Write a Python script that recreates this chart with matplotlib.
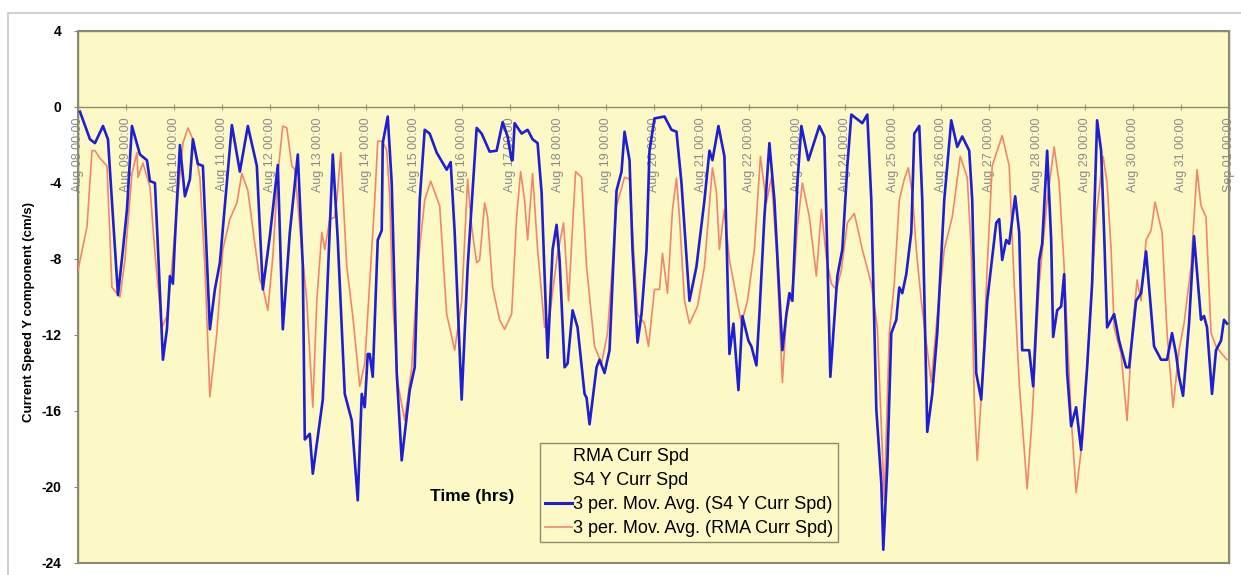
import numpy as np
import pandas as pd
import matplotlib
matplotlib.use("Agg")
import matplotlib.pyplot as plt
import matplotlib.dates as mdates
from matplotlib.lines import Line2D
from matplotlib.patches import Rectangle

plt.rcParams['font.family'] = ['Liberation Sans', 'DejaVu Sans']
plt.rcParams['axes.unicode_minus'] = False

start = pd.Timestamp("2008-08-08 00:00")

# 3 per. moving average of S4 Y current speed (hours since Aug 08 00:00, cm/s)
s4_hours = [1, 6, 8.5, 12.5, 15, 20, 22.5, 24.5, 27, 31, 34.5, 36, 38.5, 40, 42.5, 44.5, 46, 47.5,
            48.5, 51, 53.5, 56, 57.5, 60, 62.5, 66, 68.5, 71, 77, 81, 85, 89.5, 92.5, 96, 100, 102.5,
            106, 110, 112.5, 113.5, 116, 117.5, 122.5, 127.5, 130, 133.5, 137, 140, 142, 143.5, 145,
            146, 147.5, 150, 152, 152.5, 155, 157, 159.5, 162, 166, 168.5, 171, 173.5, 176, 179.5,
            184.5, 186.5, 188.5, 192, 195, 199.5, 202, 206, 209.5, 212.5, 215, 217, 217.5, 218.5, 222,
            225, 227.5, 230, 232, 235, 237.5, 239.5, 241, 243.5, 245, 247.5, 250, 253.5, 254.5, 256,
            259.5, 261, 263.5, 266, 269.5, 272, 273.5, 276, 277.5, 280, 282, 284.5, 286, 288.5, 293.5,
            297, 299.5, 302, 306, 309.5, 313.5, 316, 317.5, 320.5, 323.5, 326, 328, 330.5, 332.5,
            335.5, 337, 339.5, 341, 343.5, 346, 348.5, 352.5, 354.5, 356, 357.5, 360, 362, 365.5, 371,
            373.5, 376.5, 380, 382.5, 385, 387, 392.5, 395, 397, 399.5, 402, 403, 405, 407, 409.5, 411,
            412.5, 414.5, 417, 418.5, 421, 422.5, 425, 427.5, 430, 433.5, 437, 440, 442.5, 446, 447.5,
            449.5, 452, 455, 459.5, 461, 462.5, 464.5, 466, 469, 471, 472.5, 476, 478, 481, 482.5, 485,
            487, 488, 490, 492, 493.5, 495, 497, 499.5, 502, 505, 507.5, 510, 512, 513.5, 515, 518.5,
            521, 524.5, 526, 529.5, 532, 534.5, 538.5, 542, 545, 547.5, 549.5, 551, 553, 556, 558.5,
            562, 563.5, 565, 567.5, 569.5, 572, 573.5, 575]
s4_speed = [-0.25, -1.7, -1.9, -1.0, -1.7, -9.9, -7.5, -5.4, -1.0, -2.5, -2.8, -3.9, -4.0, -7.4, -13.3,
            -11.7, -8.9, -9.3, -7.0, -2.0, -4.7, -3.8, -1.7, -3.0, -3.1, -11.7, -9.6, -8.2, -0.95, -3.4,
            -1.0, -3.1, -9.6, -6.8, -3.05, -11.7, -6.6, -2.5, -8.4, -17.5, -17.2, -19.3, -15.4, -2.5,
            -7.0, -15.1, -16.5, -20.7, -15.1, -15.8, -13.0, -13.0, -14.2, -7.0, -6.5, -1.9, -0.5, -4.0,
            -14.0, -18.6, -14.9, -13.7, -4.9, -1.2, -1.4, -2.4, -3.3, -2.9, -6.6, -15.4, -8.4, -1.1,
            -1.4, -2.35, -2.3, -0.8, -1.55, -2.8, -2.8, -0.85, -1.4, -1.2, -1.7, -1.9, -4.5, -13.2,
            -7.5, -6.2, -8.05, -13.7, -13.5, -10.7, -11.6, -15.1, -15.3, -16.7, -13.7, -13.3, -14.0,
            -12.8, -4.4, -3.4, -1.3, -2.8, -7.5, -12.4, -10.9, -7.5, -2.3, -0.6, -0.5, -1.2, -1.3,
            -4.0, -10.2, -8.4, -4.9, -2.3, -2.8, -1.0, -2.6, -13.0, -11.4, -14.9, -11.0, -12.3, -12.6,
            -13.6, -10.9, -5.8, -1.9, -4.9, -12.8, -10.9, -9.8, -10.2, -4.0, -1.0, -2.8, -1.0, -1.55,
            -14.2, -8.9, -7.5, -3.1, -0.4, -0.85, -0.4, -4.9, -15.9, -19.8, -23.3, -18.9, -11.9,
            -11.2, -9.5, -9.8, -8.8, -6.6, -1.4, -1.0, -4.9, -17.1, -15.1, -11.9, -4.9, -0.7, -2.1,
            -1.55, -2.3, -4.9, -14.0, -15.4, -10.2, -6.1, -5.9, -8.05, -7.0, -7.2, -4.7, -6.6, -12.8,
            -12.8, -14.7, -8.05, -7.2, -2.3, -7.0, -12.1, -10.7, -10.5, -8.8, -14.0, -16.8, -15.8,
            -18.05, -13.7, -9.3, -0.7, -2.3, -6.6, -11.6, -10.9, -12.3, -13.7, -13.7, -10.2, -9.8,
            -7.6, -12.6, -13.3, -13.3, -11.9, -13.0, -14.2, -15.2, -11.4, -6.8, -11.2, -11.0, -11.6,
            -15.1, -12.8, -12.3, -11.2, -11.4]

# 3 per. moving average of RMA current speed
rma_hours = [0, 4.5, 7, 8.5, 11, 14.5, 17, 21, 23.5, 27, 29.5, 30, 32.5, 36, 38.5, 42, 44.5, 47, 50,
             52.5, 55, 57.5, 61, 63.5, 66, 69.5, 72.5, 76, 79.5, 82, 85, 88.5, 91, 92.5, 95, 97.5,
             100, 102.5, 104.5, 107, 108.5, 112, 114.5, 117.5, 119.5, 122, 123.5, 126, 128.5, 129.5,
             131.5, 134.5, 137.5, 141, 143.5, 147, 148.5, 150, 152.5, 154.5, 156, 157.5, 160, 163.5,
             167, 170, 173.5, 176.5, 181, 184.5, 188.5, 192, 195, 197, 199.5, 201, 203.5, 205, 207.5,
             211, 213.5, 217, 219.5, 221.5, 223.5, 225, 227.5, 230, 233.5, 236, 240, 243, 245.5, 249,
             252, 254.5, 258.5, 262, 265, 269.5, 273.5, 276, 277.5, 280, 283.5, 285.5, 288.5, 291,
             292.5, 295, 297.5, 299.5, 301, 303.5, 306, 310, 313.5, 317.5, 319.5, 321, 323.5, 326,
             332, 335, 338.5, 341.5, 344.5, 347, 349.5, 352.5, 354.5, 357, 358.5, 360, 362.5, 366,
             369.5, 372, 374.5, 377, 379.5, 382, 385, 388.5, 392.5, 397, 400, 403.5, 406, 408.5, 411,
             413.5, 415.5, 417.5, 419.5, 422, 427, 430, 433.5, 437.5, 441.5, 445, 447, 448.5, 450,
             452.5, 455, 457.5, 462.5, 466, 468.5, 471, 475, 477.5, 481, 485, 488.5, 491, 493.5, 497,
             499.5, 503, 506, 509.5, 513, 515, 517, 518.5, 522, 525, 527.5, 530, 532, 534.5, 537, 539,
             542.5, 545, 548, 551, 553.5, 557, 560, 562, 564.5, 567, 569.5, 572.5, 575]
rma_speed = [-8.6, -6.3, -2.3, -2.3, -2.7, -3.1, -9.5, -10.0, -8.05, -3.5, -2.4, -3.7, -2.95, -4.2,
             -7.7, -11.6, -11.0, -8.4, -4.7, -1.9, -1.1, -1.7, -3.7, -8.4, -15.25, -11.9, -7.5, -5.9,
             -5.05, -3.5, -4.4, -7.2, -9.1, -9.5, -10.7, -7.9, -3.5, -1.0, -1.1, -3.1, -3.3, -7.5,
             -10.2, -15.8, -10.2, -6.6, -7.5, -5.9, -5.8, -4.9, -2.4, -8.4, -11.0, -14.7, -13.5, -7.5,
             -4.9, -1.8, -1.8, -2.3, -4.7, -10.2, -14.5, -16.5, -13.7, -8.4, -4.9, -3.9, -5.2, -10.9,
             -12.8, -10.2, -3.8, -6.3, -8.2, -8.05, -5.05, -5.8, -9.5, -11.2, -11.7, -10.9, -5.8,
             -3.4, -4.9, -7.0, -3.5, -7.5, -11.6, -11.0, -7.7, -6.1, -10.2, -3.4, -3.7, -8.4, -12.6,
             -13.5, -11.9, -5.2, -3.7, -3.8, -6.6, -10.9, -11.4, -12.6, -9.6, -9.6, -7.7, -9.8, -5.4,
             -3.75, -5.8, -10.2, -11.4, -10.5, -8.4, -3.2, -4.5, -7.5, -5.4, -8.05, -11.4, -10.2,
             -7.5, -2.6, -5.05, -3.7, -7.5, -14.5, -11.0, -9.8, -8.8, -6.3, -4.0, -5.8, -8.9, -5.4,
             -7.9, -9.3, -9.6, -8.6, -6.1, -5.6, -7.5, -9.3, -11.6, -20.7, -11.9, -9.3, -4.9, -3.8,
             -3.2, -4.5, -7.5, -10.2, -14.5, -11.0, -7.5, -5.8, -2.6, -3.7, -7.5, -15.4, -18.6, -14.5,
             -8.4, -3.1, -1.5, -3.1, -9.3, -14.5, -20.1, -16.3, -9.3, -4.9, -2.1, -4.0, -8.4, -16.3,
             -20.3, -17.2, -11.9, -5.8, -2.6, -4.0, -7.5, -11.6, -13.0, -16.5, -11.9, -9.1, -10.2,
             -7.0, -6.5, -5.0, -6.6, -11.9, -15.8, -12.8, -11.4, -8.4, -3.3, -5.2, -5.8, -11.9, -12.6,
             -13.0, -13.3]

legend_labels = ["RMA Curr Spd", "S4 Y Curr Spd",
                 "3 per. Mov. Avg. (S4 Y Curr Spd)", "3 per. Mov. Avg. (RMA Curr Spd)"]

s4_time = start + pd.to_timedelta(s4_hours, unit="h")
rma_time = start + pd.to_timedelta(rma_hours, unit="h")

W, H = 1241, 575
fig = plt.figure(figsize=(W / 100, H / 100), dpi=100)
fig.patch.set_facecolor("white")
fig.patches.append(Rectangle((8 / W, -0.1), 1.2, 1 - 13 / H + 0.1, transform=fig.transFigure,
                             fill=False, edgecolor="#c8c8c8", linewidth=1.2))

ax = fig.add_axes([78 / W, 12 / H, 1151 / W, 532 / H])
bg = "#FDF9C6"
ax.set_facecolor(bg)

ax.plot(rma_time, rma_speed, color="#F0876A", linewidth=1.2, zorder=3)
ax.plot(s4_time, s4_speed, color="#1E1ED2", linewidth=1.9, zorder=4)

ax.set_ylim(-24, 4)
ax.set_yticks(np.arange(-24, 5, 4))
ax.set_xlim(start, start + pd.Timedelta(days=24))

ax.xaxis.set_major_locator(mdates.DayLocator())
ax.xaxis.set_major_formatter(mdates.DateFormatter("%b %d %H:%M"))
ax.spines["bottom"].set_position(("data", 0))
for s in ["top", "right", "left", "bottom"]:
    ax.spines[s].set_color("#8c8a70")
    ax.spines[s].set_linewidth(1.0)
ax.patch.set_edgecolor("#8c8a70")
ax.patch.set_linewidth(1.5)

ax.tick_params(axis="x", direction="inout", length=5, color="#9a9a9a", pad=5,
               labelsize=9, labelcolor="#8a8a8a", labelrotation=90)
ax.tick_params(axis="y", direction="out", length=3, color="#8c8a70", pad=9, labelsize=10)
for lab in ax.get_yticklabels():
    lab.set_fontweight("bold")

ax.set_ylabel("Current Speed Y component (cm/s)", fontsize=9.5, fontweight="bold")
ax.yaxis.set_label_coords(-0.037, 0.472)

fig.text(472 / W, 1 - 497 / H, "Time (hrs)", fontsize=12.5, fontweight="bold",
         ha="center", va="center")

handles = [Line2D([], [], linestyle="none"),
           Line2D([], [], linestyle="none"),
           Line2D([], [], color="#1E1ED2", linewidth=2.2),
           Line2D([], [], color="#F0876A", linewidth=1.2)]
leg = fig.legend(handles, legend_labels, loc="upper left",
                 bbox_to_anchor=(540 / W, 1 - 443 / H), fontsize=13, frameon=True,
                 fancybox=False, edgecolor="#8c8a70", facecolor=bg, framealpha=1,
                 handlelength=1.5, handletextpad=0.1, labelspacing=0.4, borderpad=0.25,
                 borderaxespad=0)
leg.get_frame().set_linewidth(1.0)

fig.savefig("out.png", dpi=100)
